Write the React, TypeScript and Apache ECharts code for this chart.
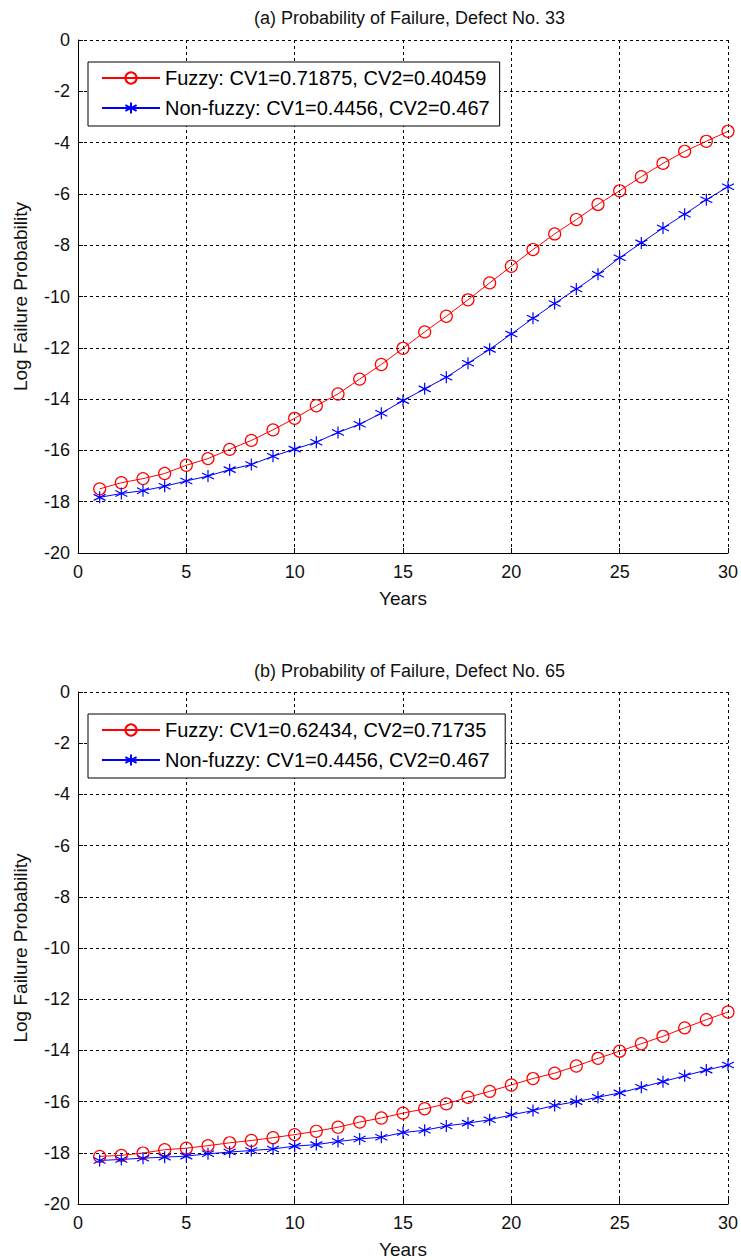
import React, { useEffect, useRef } from "react";
import * as echarts from "echarts";

const years = Array.from({ length: 30 }, (_, i) => i + 1);

const fuzzyA = [-17.5, -17.26, -17.1, -16.9, -16.58, -16.32, -15.96, -15.61, -15.2, -14.75, -14.26, -13.8, -13.22, -12.65, -12.02, -11.38, -10.77, -10.13, -9.47, -8.82, -8.17, -7.56, -7.0, -6.41, -5.88, -5.33, -4.81, -4.34, -3.95, -3.56];
const nonFuzzyA = [-17.83, -17.68, -17.57, -17.4, -17.19, -17.0, -16.75, -16.55, -16.23, -15.95, -15.68, -15.3, -14.98, -14.55, -14.06, -13.6, -13.15, -12.6, -12.06, -11.46, -10.85, -10.27, -9.71, -9.13, -8.49, -7.91, -7.33, -6.79, -6.23, -5.72];
const fuzzyB = [-18.14, -18.1, -18.01, -17.88, -17.82, -17.72, -17.61, -17.52, -17.41, -17.29, -17.16, -17.0, -16.8, -16.64, -16.45, -16.28, -16.09, -15.83, -15.6, -15.35, -15.1, -14.89, -14.61, -14.31, -14.03, -13.74, -13.45, -13.12, -12.8, -12.5];
const nonFuzzyB = [-18.3, -18.26, -18.21, -18.17, -18.13, -18.04, -17.97, -17.91, -17.85, -17.74, -17.68, -17.56, -17.46, -17.39, -17.21, -17.12, -16.95, -16.84, -16.71, -16.52, -16.35, -16.15, -16.0, -15.83, -15.66, -15.44, -15.22, -14.99, -14.77, -14.57];

const titles = ["(a) Probability of Failure, Defect No. 33", "(b) Probability of Failure, Defect No. 65"];
const namesA = ["Fuzzy: CV1=0.71875, CV2=0.40459", "Non-fuzzy: CV1=0.4456, CV2=0.467"];
const namesB = ["Fuzzy: CV1=0.62434, CV2=0.71735", "Non-fuzzy: CV1=0.4456, CV2=0.467 "];

const FONT = "Liberation Sans, Arial, sans-serif";
const ASTERISK = "path://M5,0L5,10M0.67,2.5L9.33,7.5M0.67,7.5L9.33,2.5";

export default function App() {
  const ref = useRef<HTMLDivElement>(null);
  useEffect(() => {
    document.body.style.margin = "0";
    const chart = echarts.init(ref.current!, null, { renderer: "svg" });
    const grids = [
      { left: 78, right: 10, top: 40, height: 513 },
      { left: 78, right: 10, top: 692, height: 515 },
    ];
    const xAxis = grids.map((_, i) => ({
      type: "value",
      gridIndex: i,
      min: 0,
      max: 30,
      interval: 5,
      name: "Years",
      nameLocation: "middle",
      nameGap: 36,
      nameTextStyle: { fontFamily: FONT, fontSize: 19, color: "#111" },
      axisLine: { show: true, onZero: false, lineStyle: { color: "#000", width: 1 } },
      axisTick: { show: true, inside: true, length: 5, lineStyle: { color: "#000" } },
      axisLabel: { fontFamily: FONT, fontSize: 18, color: "#111", margin: 10 },
      splitLine: { show: true, lineStyle: { color: "#000", type: [3, 3], width: 1 } },
    }));
    const yAxis = grids.map((_, i) => ({
      type: "value",
      gridIndex: i,
      min: -20,
      max: 0,
      interval: 2,
      name: "Log Failure Probability",
      nameLocation: "middle",
      nameGap: 48,
      nameTextStyle: { fontFamily: FONT, fontSize: 19, color: "#111" },
      axisLine: { show: true, onZero: false, lineStyle: { color: "#000", width: 1 } },
      axisTick: { show: true, inside: true, length: 5, lineStyle: { color: "#000" } },
      axisLabel: { fontFamily: FONT, fontSize: 18, color: "#111", margin: 8 },
      splitLine: { show: true, lineStyle: { color: "#000", type: [3, 3], width: 1 } },
    }));
    const mk = (name: string, data: number[], gi: number, fuzzy: boolean) => ({
      type: "line",
      name,
      xAxisIndex: gi,
      yAxisIndex: gi,
      data: years.map((y, k) => [y, data[k]]),
      symbol: fuzzy ? "circle" : ASTERISK,
      symbolSize: fuzzy ? 12 : 12,
      showAllSymbol: true,
      lineStyle: { color: fuzzy ? "#ff0000" : "#0000ff", width: 1 },
      itemStyle: {
        color: fuzzy ? "rgba(255,255,255,0)" : "#0000ff",
        borderColor: fuzzy ? "#ff0000" : "#0000ff",
        borderWidth: 1.2,
      },
      emphasis: { disabled: true },
    });
    const legendBase = {
      orient: "vertical",
      left: 88,
      backgroundColor: "#fff",
      borderColor: "#000",
      borderWidth: 1,
      padding: [6, 10, 8, 13],
      itemWidth: 58,
      itemHeight: 14,
      itemGap: 10,
      selectedMode: false,
      textStyle: { fontFamily: FONT, fontSize: 20, color: "#000" },
    };
    chart.setOption({
      animation: false,
      title: [
        { text: titles[0], left: 404.5, textAlign: "center", top: 4, textStyle: { fontFamily: FONT, fontSize: 18, fontWeight: "normal", color: "#111" } },
        { text: titles[1], left: 404.5, textAlign: "center", top: 657, textStyle: { fontFamily: FONT, fontSize: 18, fontWeight: "normal", color: "#111" } },
      ],
      legend: [
        { ...legendBase, top: 62, data: namesA },
        { ...legendBase, top: 714, data: namesB },
      ],
      grid: grids,
      xAxis,
      yAxis,
      series: [
        mk(namesA[0], fuzzyA, 0, true),
        mk(namesA[1], nonFuzzyA, 0, false),
        mk(namesB[0], fuzzyB, 1, true),
        mk(namesB[1], nonFuzzyB, 1, false),
      ],
    });
    return () => chart.dispose();
  }, []);
  return <div ref={ref} style={{ width: 741, height: 1260, background: "#fff" }} />;
}
